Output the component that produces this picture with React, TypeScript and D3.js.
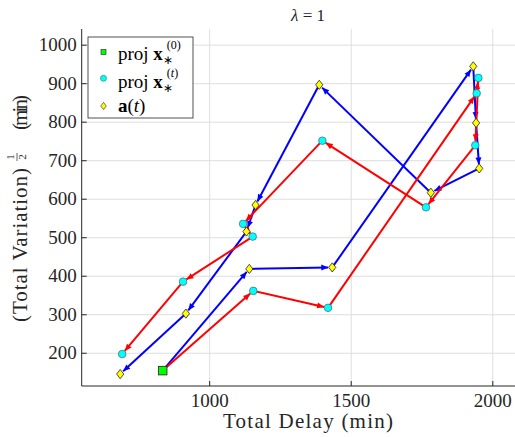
import * as d3 from "d3";

// start point proj x*(0)
const startDelay = [834];
const startVariation = [155];

// a(t) path (yellow diamonds, blue arrows)
const aDelay = [1140, 1433, 1931, 1941, 1952, 1781, 1387, 1162, 1130, 916, 684];
const aVariation = [419, 423, 945, 798, 680, 617, 897, 585, 516, 303, 146];

// proj x*(t) path (cyan circles, red arrows)
const projDelay = [1154, 1418, 1943, 1949, 1938, 1764, 1398, 1118, 1152, 906, 691];
const projVariation = [362, 318, 875, 915, 740, 579, 752, 536, 503, 386, 198];

const xTicks = [1000, 1500, 2000];
const yTicks = [200, 300, 400, 500, 600, 700, 800, 900, 1000];

const width = 515;
const height = 437;
const plot = { left: 81.7, right: 533, top: 29, bottom: 386 };
const serif = { fontFamily: '"Liberation Serif", "Times New Roman", serif' };

const diamond = (w: number, h: number) => `M0,${-h}L${w},0L0,${h}L${-w},0Z`;

export default function App() {
  const x = d3.scaleLinear().domain([548, 2142]).range([plot.left, plot.right]);
  const y = d3.scaleLinear().domain([115, 1042]).range([plot.bottom, plot.top]);

  const toPts = (dx: number[], dy: number[]) =>
    dx.map((d, i) => [x(d), y(dy[i])] as [number, number]);

  const start = toPts(startDelay, startVariation)[0];
  const aPts = [start, ...toPts(aDelay, aVariation)];
  const pPts = [start, ...toPts(projDelay, projVariation)];

  // shorten each segment so the arrow tip stops at the marker edge
  const segments = (pts: [number, number][]) =>
    d3.pairs(pts).map(([a, b]) => {
      const len = Math.hypot(b[0] - a[0], b[1] - a[1]);
      const k = (len - 4) / len;
      return { x1: a[0], y1: a[1], x2: a[0] + (b[0] - a[0]) * k, y2: a[1] + (b[1] - a[1]) * k };
    });

  const arrowPath = "M0,0L-7,-3L-7,3Z";

  return (
    <svg
      width={width}
      height={height}
      style={{ position: "fixed", left: 0, top: 0, background: "#fff" }}
    >
      <defs>
        <marker id="arrowBlue" markerUnits="userSpaceOnUse" viewBox="-8 -4 9 8" refX="0" refY="0" markerWidth="9" markerHeight="8" orient="auto">
          <path d={arrowPath} fill="#0000ff" />
        </marker>
        <marker id="arrowRed" markerUnits="userSpaceOnUse" viewBox="-8 -4 9 8" refX="0" refY="0" markerWidth="9" markerHeight="8" orient="auto">
          <path d={arrowPath} fill="#ff0000" />
        </marker>
        <clipPath id="plotClip">
          <rect x={plot.left} y={plot.top} width={plot.right - plot.left} height={plot.bottom - plot.top} />
        </clipPath>
      </defs>

      {/* grid */}
      <g stroke="#dedede" strokeWidth={1}>
        {xTicks.map((t) => (
          <line key={"gx" + t} x1={x(t)} x2={x(t)} y1={plot.top} y2={plot.bottom} />
        ))}
        {yTicks.map((t) => (
          <line key={"gy" + t} x1={plot.left} x2={plot.right} y1={y(t)} y2={y(t)} />
        ))}
      </g>

      {/* paths */}
      <g clipPath="url(#plotClip)">
        {segments(aPts).map((s, i) => (
          <line key={"b" + i} {...s} stroke="#0000ff" strokeWidth={2} markerEnd="url(#arrowBlue)" />
        ))}
        {segments(pPts).map((s, i) => (
          <line key={"r" + i} {...s} stroke="#ff0000" strokeWidth={2} markerEnd="url(#arrowRed)" />
        ))}
        {aPts.slice(1).map((p, i) => (
          <path key={"d" + i} d={diamond(3.6, 4.6)} transform={`translate(${p[0]},${p[1]})`} fill="#ffff00" stroke="#222" strokeWidth={0.8} />
        ))}
        {pPts.slice(1).map((p, i) => (
          <circle key={"c" + i} cx={p[0]} cy={p[1]} r={3.8} fill="#00ffff" stroke="#3a6a6a" strokeWidth={0.7} />
        ))}
        <rect x={start[0] - 4.3} y={start[1] - 4.3} width={8.6} height={8.6} fill="#00ff00" stroke="#222" strokeWidth={0.8} />
      </g>

      {/* axes */}
      <g stroke="#262626" strokeWidth={1}>
        <line x1={plot.left} x2={plot.left} y1={plot.top} y2={plot.bottom} />
        <line x1={plot.left} x2={plot.right} y1={plot.bottom} y2={plot.bottom} />
        {yTicks.map((t) => (
          <line key={"ty" + t} x1={plot.left} x2={plot.left + 5} y1={y(t)} y2={y(t)} />
        ))}
        {xTicks.map((t) => (
          <line key={"tx" + t} x1={x(t)} x2={x(t)} y1={plot.bottom} y2={plot.bottom - 5} />
        ))}
      </g>
      <g style={serif} fontSize={19} fill="#262626">
        {yTicks.map((t) => (
          <text key={"ly" + t} x={plot.left - 5} y={y(t) + 6} textAnchor="end">
            {t}
          </text>
        ))}
        {xTicks.map((t) => (
          <text key={"lx" + t} x={x(t)} y={407} textAnchor="middle">
            {t}
          </text>
        ))}
      </g>

      {/* labels */}
      <text x={308} y={428} textAnchor="middle" style={serif} fontSize={21} fill="#262626" textLength={170} lengthAdjust="spacing">
        Total Delay (min)
      </text>
      <g transform="translate(27,0) rotate(-90)" style={serif} fontSize={21} fill="#262626">
        <text x={-168} y={0} textAnchor="end" textLength={154} lengthAdjust="spacing">
          (Total Variation)
        </text>
        <text x={-157} y={-13} textAnchor="middle" fontSize={11}>1</text>
        <line x1={-161} x2={-153} y1={-10} y2={-10} stroke="#262626" strokeWidth={0.7} />
        <text x={-157} y={-1} textAnchor="middle" fontSize={11}>2</text>
        <text x={-130} y={0} textAnchor="start" textLength={35} lengthAdjust="spacing">
          (min)
        </text>
      </g>
      <text x={308} y={21} textAnchor="middle" style={serif} fontSize={17} fill="#262626">
        <tspan fontStyle="italic">λ</tspan> = 1
      </text>

      {/* legend */}
      <g>
        <rect x={88} y={37} width={105} height={81} fill="#fff" stroke="#262626" strokeWidth={0.8} />
        <rect x={101} y={49.5} width={5} height={5} fill="#00ff00" stroke="#222" strokeWidth={0.6} />
        <circle cx={103.5} cy={78.3} r={3} fill="#00ffff" stroke="#3a6a6a" strokeWidth={0.6} />
        <path d={diamond(2.8, 3.6)} transform="translate(103.5,106)" fill="#ffff00" stroke="#222" strokeWidth={0.6} />
        <g style={serif} fontSize={19} fill="#000">
          <text x={118} y={60}>
            proj <tspan fontWeight="bold">x</tspan>
            <tspan fontSize={12} dy={4}>∗</tspan>
            <tspan fontSize={12} dx={-6} dy={-15}>(0)</tspan>
          </text>
          <text x={118} y={88}>
            proj <tspan fontWeight="bold">x</tspan>
            <tspan fontSize={12} dy={4}>∗</tspan>
            <tspan fontSize={12} dx={-6} dy={-15}>(</tspan>
            <tspan fontSize={12} fontStyle="italic">t</tspan>
            <tspan fontSize={12}>)</tspan>
          </text>
          <text x={118} y={112}>
            <tspan fontWeight="bold">a</tspan>(<tspan fontStyle="italic">t</tspan>)
          </text>
        </g>
      </g>
    </svg>
  );
}
